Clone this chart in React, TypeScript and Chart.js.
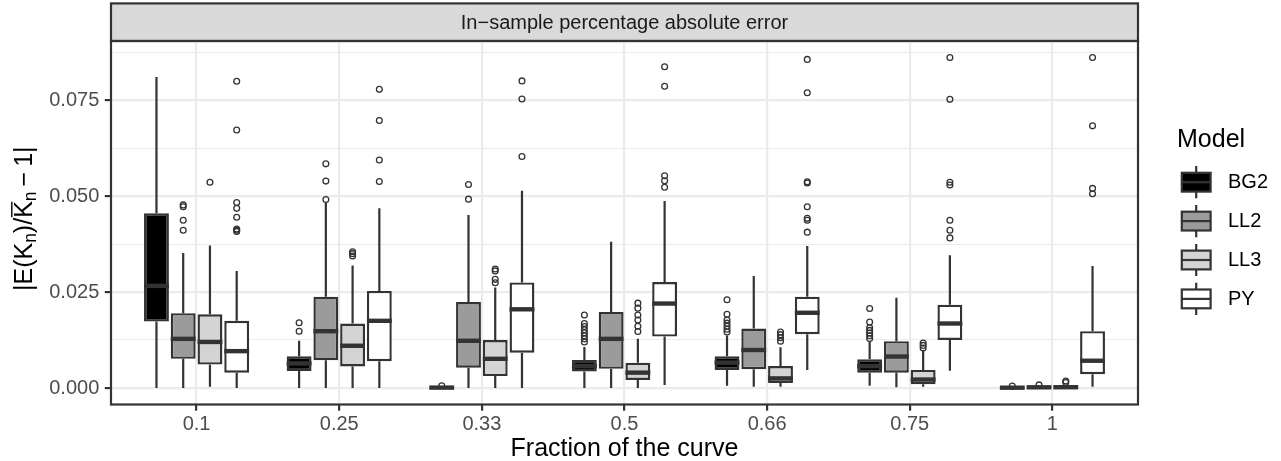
import React, { useEffect, useRef } from 'react';
import { Chart, registerables } from 'chart.js';

Chart.register(...registerables);

const FONT = '"Liberation Sans", Arial, Helvetica, sans-serif';

// ---- data -------------------------------------------------------------
const fractions = ['0.1', '0.25', '0.33', '0.5', '0.66', '0.75', '1'];
const models = ['BG2', 'LL2', 'LL3', 'PY'];
const modelFills = ['#000000', '#9B9B9B', '#D4D4D4', '#FFFFFF'];

const bg2Low = [0, 0, 0, 0, 0.0006, 0.0006, 0];
const bg2Q1 = [0.0173, 0.0044, 0.00004, 0.0043, 0.0047, 0.004, 0.00003];
const bg2Median = [0.0266, 0.0064, 0.0001, 0.0057, 0.0066, 0.0057, 0.00008];
const bg2Q3 = [0.0455, 0.0083, 0.0002, 0.0073, 0.0083, 0.0075, 0.00015];
const bg2High = [0.081, 0.0123, 0.0004, 0.0107, 0.0137, 0.0122, 0.0003];
const bg2Outliers = [
  [],
  [0.017, 0.0148],
  [0.0006],
  [0.019, 0.0168, 0.016, 0.0152, 0.0144, 0.0136, 0.0128, 0.012],
  [0.023, 0.0192, 0.0177, 0.0169, 0.0161, 0.0153, 0.0146],
  [0.0207, 0.0172, 0.0157, 0.015, 0.0143, 0.0136, 0.0129],
  [0.0005],
];

const ll2Low = [0, 0, 0, 0, 0.0003, 0.0002, 0.00005];
const ll2Q1 = [0.0076, 0.0072, 0.0053, 0.005, 0.0049, 0.004, 0.0001];
const ll2Median = [0.0128, 0.0148, 0.0123, 0.0128, 0.0099, 0.0082, 0.00018];
const ll2Q3 = [0.0195, 0.0238, 0.0224, 0.0198, 0.0155, 0.0122, 0.0003];
const ll2High = [0.0352, 0.0482, 0.0451, 0.0381, 0.0292, 0.0235, 0.0006];
const ll2Outliers = [
  [0.0477, 0.0472, 0.0437, 0.0411],
  [0.0584, 0.0539, 0.0491],
  [0.053, 0.0492],
  [],
  [],
  [],
  [0.0008],
];

const ll3Low = [0.0003, 0, 0, 0, 0.0003, 0.0003, 0.00005];
const ll3Q1 = [0.0061, 0.0056, 0.0031, 0.0021, 0.0013, 0.001, 0.0001];
const ll3Median = [0.012, 0.011, 0.0076, 0.004, 0.0025, 0.0022, 0.0002];
const ll3Q3 = [0.0192, 0.0168, 0.0125, 0.0066, 0.0057, 0.0047, 0.0004];
const ll3High = [0.0371, 0.0319, 0.0262, 0.0128, 0.0106, 0.0099, 0.0008];
const ll3Outliers = [
  [0.0536],
  [0.0355, 0.035, 0.0344],
  [0.031, 0.0305, 0.0283, 0.0274],
  [0.0221, 0.0208, 0.019, 0.0177, 0.0161, 0.0147],
  [0.0146, 0.0139, 0.0131, 0.0122],
  [0.0117, 0.0111, 0.0104],
  [0.0018, 0.0014],
];

const pyLow = [0, 0, 0, 0.0008, 0.0047, 0.0045, 0.0003];
const pyQ1 = [0.004, 0.007, 0.0092, 0.0134, 0.014, 0.0125, 0.0036];
const pyMedian = [0.0096, 0.0175, 0.0205, 0.022, 0.0196, 0.0168, 0.0071];
const pyQ3 = [0.0175, 0.0253, 0.0275, 0.0276, 0.0238, 0.0217, 0.0148];
const pyHigh = [0.0305, 0.0468, 0.0514, 0.0487, 0.037, 0.0346, 0.0318];
const pyOutliers = [
  [0.0799, 0.0672, 0.0483, 0.0468, 0.0445, 0.0414, 0.0411, 0.0408],
  [0.0778, 0.0697, 0.0594, 0.0538],
  [0.08, 0.0753, 0.0603],
  [0.0837, 0.0786, 0.0553, 0.054, 0.0523],
  [0.0856, 0.0769, 0.0537, 0.0534, 0.0472, 0.0442, 0.0437, 0.0406],
  [0.0861, 0.0752, 0.0536, 0.0529, 0.0437, 0.0411, 0.0391],
  [0.0861, 0.0683, 0.052, 0.0506],
];

const yMajorTicks = [0, 0.025, 0.05, 0.075];
const yMinorTicks = [0.0125, 0.0375, 0.0625, 0.0875];
const yMin = -0.0043;
const yMax = 0.0904;

const stripTitle = 'In\u2212sample percentage absolute error';
const xTitle = 'Fraction of the curve';
const legendTitle = 'Model';

// ---- derived ----------------------------------------------------------
const stats = [
  { lo: bg2Low, q1: bg2Q1, med: bg2Median, q3: bg2Q3, hi: bg2High, out: bg2Outliers },
  { lo: ll2Low, q1: ll2Q1, med: ll2Median, q3: ll2Q3, hi: ll2High, out: ll2Outliers },
  { lo: ll3Low, q1: ll3Q1, med: ll3Median, q3: ll3Q3, hi: ll3High, out: ll3Outliers },
  { lo: pyLow, q1: pyQ1, med: pyMedian, q3: pyQ3, hi: pyHigh, out: pyOutliers },
];
const dodgeWidth = 0.75;
const yGridTicks = [...yMajorTicks, ...yMinorTicks].sort((a, b) => a - b);
const isMajor = (v: number) => yMajorTicks.some((m) => Math.abs(m - v) < 1e-9);

const INK = '#333333';
const LW = 2.2;

const boxPlugin = {
  id: 'ggBoxplot',
  beforeDraw(chart: any) {
    const { ctx, chartArea } = chart;
    ctx.save();
    ctx.fillStyle = '#FFFFFF';
    ctx.fillRect(0, 0, chart.width, chart.height);
    // facet strip
    const top = 3.4;
    const h = chartArea.top - top;
    ctx.fillStyle = '#D9D9D9';
    ctx.fillRect(chartArea.left, top, chartArea.right - chartArea.left, h);
    ctx.strokeStyle = INK;
    ctx.lineWidth = LW;
    ctx.strokeRect(chartArea.left, top, chartArea.right - chartArea.left, h);
    ctx.fillStyle = '#1A1A1A';
    ctx.font = `20px ${FONT}`;
    ctx.textAlign = 'center';
    ctx.textBaseline = 'middle';
    ctx.fillText(stripTitle, (chartArea.left + chartArea.right) / 2, top + h / 2 + 0.8);
    ctx.restore();
  },
  beforeDatasetsDraw(chart: any) {
    const { ctx } = chart;
    const yS = chart.scales.y;
    ctx.save();
    ctx.strokeStyle = INK;
    ctx.lineWidth = LW;
    ctx.lineCap = 'butt';
    stats.forEach((s, k) => {
      const meta = chart.getDatasetMeta(k);
      meta.data.forEach((el: any, i: number) => {
        const x = el.x;
        ctx.beginPath();
        ctx.moveTo(x, yS.getPixelForValue(s.hi[i]));
        ctx.lineTo(x, yS.getPixelForValue(s.q3[i]));
        ctx.moveTo(x, yS.getPixelForValue(s.q1[i]));
        ctx.lineTo(x, yS.getPixelForValue(s.lo[i]));
        ctx.stroke();
      });
    });
    ctx.restore();
  },
  afterDatasetsDraw(chart: any) {
    const { ctx } = chart;
    const yS = chart.scales.y;
    ctx.save();
    ctx.strokeStyle = INK;
    ctx.lineWidth = 4.4;
    ctx.lineCap = 'butt';
    stats.forEach((s, k) => {
      const meta = chart.getDatasetMeta(k);
      meta.data.forEach((el: any, i: number) => {
        const y = yS.getPixelForValue(s.med[i]);
        ctx.beginPath();
        ctx.moveTo(el.x - el.width / 2, y);
        ctx.lineTo(el.x + el.width / 2, y);
        ctx.stroke();
      });
    });
    ctx.restore();
  },
  afterDraw(chart: any) {
    const { ctx, chartArea } = chart;
    ctx.save();
    // panel border
    ctx.strokeStyle = INK;
    ctx.lineWidth = LW;
    ctx.strokeRect(chartArea.left, chartArea.top, chartArea.right - chartArea.left, chartArea.bottom - chartArea.top);

    // y-axis title with sub-scripts and overline
    const big = 25;
    const small = 17.5;
    const segs = [
      { t: '|E(K', sub: false, bar: false },
      { t: 'n', sub: true, bar: false },
      { t: ')/', sub: false, bar: false },
      { t: 'K', sub: false, bar: true },
      { t: 'n', sub: true, bar: false },
      { t: '\u2009\u2212\u20091|', sub: false, bar: false },
    ];
    const widths = segs.map((sg) => {
      ctx.font = `${sg.sub ? small : big}px ${FONT}`;
      return ctx.measureText(sg.t).width;
    });
    const total = widths.reduce((a, b) => a + b, 0);
    ctx.translate(32.3, (chartArea.top + chartArea.bottom) / 2 - 4);
    ctx.rotate(-Math.PI / 2);
    ctx.fillStyle = '#000000';
    ctx.textAlign = 'left';
    ctx.textBaseline = 'alphabetic';
    let u = -total / 2;
    segs.forEach((sg, i) => {
      ctx.font = `${sg.sub ? small : big}px ${FONT}`;
      ctx.fillText(sg.t, u, sg.sub ? 3.7 : 0);
      if (sg.bar) {
        ctx.strokeStyle = '#000000';
        ctx.lineWidth = 1.4;
        ctx.beginPath();
        ctx.moveTo(u + 0.5, -big * 0.716 - 2.6);
        ctx.lineTo(u + widths[i] - 0.5, -big * 0.716 - 2.6);
        ctx.stroke();
      }
      u += widths[i];
    });
    ctx.restore();

    // legend
    ctx.save();
    const keyCx = 1196.2;
    const firstKeyCy = 182.2;
    const keyStep = 38.9;
    ctx.fillStyle = '#000000';
    ctx.font = `25px ${FONT}`;
    ctx.textAlign = 'left';
    ctx.textBaseline = 'alphabetic';
    ctx.fillText(legendTitle, 1177, 147);
    models.forEach((m, k) => {
      const cy = firstKeyCy + k * keyStep;
      ctx.strokeStyle = INK;
      ctx.lineWidth = LW;
      ctx.beginPath();
      ctx.moveTo(keyCx, cy - 16.1);
      ctx.lineTo(keyCx, cy - 9.4);
      ctx.moveTo(keyCx, cy + 9.4);
      ctx.lineTo(keyCx, cy + 16.1);
      ctx.stroke();
      ctx.fillStyle = modelFills[k];
      ctx.fillRect(keyCx - 14.4, cy - 9.4, 28.8, 18.8);
      ctx.strokeRect(keyCx - 14.4, cy - 9.4, 28.8, 18.8);
      ctx.beginPath();
      ctx.moveTo(keyCx - 14.4, cy);
      ctx.lineTo(keyCx + 14.4, cy);
      ctx.stroke();
      ctx.fillStyle = '#000000';
      ctx.font = `20px ${FONT}`;
      ctx.textBaseline = 'middle';
      ctx.fillText(m, 1228, cy + 0.5);
      ctx.textBaseline = 'alphabetic';
    });
    ctx.restore();
  },
};

export default function App() {
  const canvasRef = useRef<HTMLCanvasElement | null>(null);

  useEffect(() => {
    if (!canvasRef.current) return;
    const barSets = models.map((m, k) => ({
      type: 'bar' as const,
      label: m,
      data: fractions.map((_, i) => ({ x: i + 1, y: [stats[k].q1[i], stats[k].q3[i]] })),
      backgroundColor: modelFills[k],
      borderColor: INK,
      borderWidth: 2.4,
      borderSkipped: false,
      categoryPercentage: dodgeWidth,
      barPercentage: 0.93,
    }));
    const outlierSets = models.map((m, k) => ({
      type: 'scatter' as const,
      label: `${m} outliers`,
      data: stats[k].out.flatMap((vals, i) =>
        vals.map((v) => ({ x: i + 1 + (k - (models.length - 1) / 2) * (dodgeWidth / models.length), y: v }))
      ),
      showLine: false,
      pointStyle: 'circle',
      pointRadius: 2.9,
      pointBorderWidth: 1.3,
      pointBorderColor: INK,
      pointBackgroundColor: 'rgba(0,0,0,0)',
    }));

    const chart = new Chart(canvasRef.current, {
      type: 'bar',
      data: { datasets: [...barSets, ...outlierSets] as any },
      options: {
        responsive: false,
        animation: false,
        devicePixelRatio: 1,
        events: [],
        layout: { padding: { top: 41, right: 143, bottom: 0, left: 0 } },
        plugins: { legend: { display: false }, tooltip: { enabled: false } },
        scales: {
          x: {
            type: 'linear',
            position: 'bottom',
            min: 0.4,
            max: 7.6,
            offset: false,
            afterBuildTicks: (scale: any) => {
              scale.ticks = fractions.map((_, i) => ({ value: i + 1 }));
            },
            afterFit: (scale: any) => {
              scale.height = 56.5;
            },
            ticks: {
              autoSkip: false,
              maxRotation: 0,
              minRotation: 0,
              padding: 2,
              color: '#4D4D4D',
              font: { family: FONT, size: 20 },
              callback: (v: any) => fractions[Math.round(Number(v)) - 1] ?? '',
            },
            grid: {
              offset: false,
              color: '#EBEBEB',
              lineWidth: LW,
              tickColor: INK,
              tickLength: 6.2,
              tickWidth: LW,
            },
            border: { display: false },
            title: {
              display: true,
              text: xTitle,
              color: '#000000',
              font: { family: FONT, size: 25, lineHeight: 0.92 },
              padding: { top: 0, bottom: 0 },
            },
          },
          y: {
            type: 'linear',
            min: yMin,
            max: yMax,
            afterBuildTicks: (scale: any) => {
              scale.ticks = yGridTicks.map((v) => ({ value: v }));
            },
            afterFit: (scale: any) => {
              scale.width = 111;
            },
            ticks: {
              autoSkip: false,
              padding: 5.5,
              color: '#4D4D4D',
              font: { family: FONT, size: 20 },
              callback: (v: any) => (isMajor(Number(v)) ? Number(v).toFixed(3) : ''),
            },
            grid: {
              color: '#EBEBEB',
              lineWidth: (ctx: any) => (ctx.tick && isMajor(ctx.tick.value) ? LW : 1.1),
              tickColor: (ctx: any) => (ctx.tick && isMajor(ctx.tick.value) ? INK : 'rgba(0,0,0,0)'),
              tickLength: 6.2,
              tickWidth: LW,
            },
            border: { display: false },
          },
        },
      } as any,
      plugins: [boxPlugin],
    });
    return () => chart.destroy();
  }, []);

  return (
    <div style={{ position: 'fixed', left: 0, top: 0, width: 1281, height: 461, background: '#FFFFFF' }}>
      <canvas ref={canvasRef} width={1281} height={461} style={{ display: 'block' }} />
    </div>
  );
}
